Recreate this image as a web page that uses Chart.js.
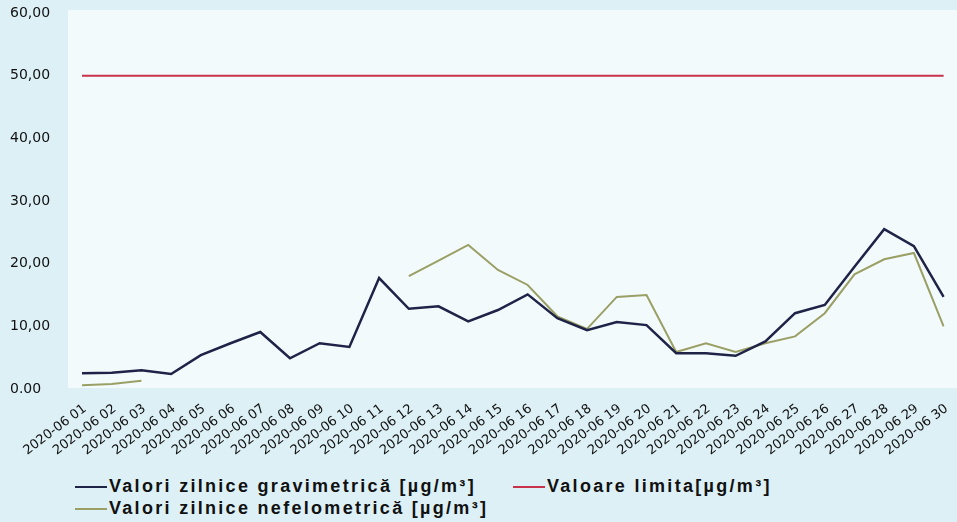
<!DOCTYPE html>
<html lang="ro">
<head>
<meta charset="UTF-8" />
<title>PM10 iunie 2020</title>
<script src="https://cdn.jsdelivr.net/npm/chart.js"></script>
<style>
  body {
    margin: 0;
    padding: 0;
    background: #dcf0f6;
    width: 957px;
    height: 522px;
    overflow: hidden;
    position: relative;
    font-family: 'DejaVu Sans', sans-serif;
  }
  #wrap {
    position: absolute;
    left: 0;
    top: 0;
    width: 957px;
    height: 470px;
  }
  .legend-item {
    position: absolute;
    display: flex;
    align-items: center;
    font-family: 'Liberation Sans', Arial, sans-serif;
    font-size: 18px;
    font-weight: bold;
    letter-spacing: 2.3px;
    color: #111;
    white-space: nowrap;
  }
  .legend-item .mark {
    width: 32px;
    height: 2px;
    margin-right: 2px;
  }
</style>
</head>
<body>

<div id="wrap"><canvas id="chart"></canvas></div>

<div class="legend-item" style="left:75px; top:476px;"><span class="mark" style="background:#1f2347"></span>Valori zilnice gravimetrică [µg/m³]</div>
<div class="legend-item" style="left:513px; top:476px;"><span class="mark" style="background:#c8324b"></span>Valoare limita[µg/m³]</div>
<div class="legend-item" style="left:75px; top:498px;"><span class="mark" style="background:#9aa065"></span>Valori zilnice nefelometrică [µg/m³]</div>

<script>
  // categories: days of June 2020
  const days = ['2020-06 01', '2020-06 02', '2020-06 03', '2020-06 04', '2020-06 05', '2020-06 06',
    '2020-06 07', '2020-06 08', '2020-06 09', '2020-06 10', '2020-06 11', '2020-06 12',
    '2020-06 13', '2020-06 14', '2020-06 15', '2020-06 16', '2020-06 17', '2020-06 18',
    '2020-06 19', '2020-06 20', '2020-06 21', '2020-06 22', '2020-06 23', '2020-06 24',
    '2020-06 25', '2020-06 26', '2020-06 27', '2020-06 28', '2020-06 29', '2020-06 30'];

  // series values (µg/m³)
  const gravimetric = [2.5, 2.6, 3.0, 2.4, 5.4, 7.3, 9.1, 4.9, 7.3, 6.7, 17.7, 12.8, 13.2, 10.8, 12.6,
    15.1, 11.3, 9.4, 10.7, 10.2, 5.7, 5.7, 5.3, 7.6, 12.1, 13.4, 19.5, 25.5, 22.8, 14.7];
  const nefelometric = [0.6, 0.8, 1.3, null, null, null, null, null, null, null, null, 18.0, 20.5, 23.0, 19.0,
    16.6, 11.6, 9.6, 14.7, 15.0, 5.9, 7.3, 5.9, 7.3, 8.4, 12.1, 18.3, 20.7, 21.7, 10.0];
  const limit = days.map(() => 50);

  // y-axis ticks
  const yTicks = [0, 10, 20, 30, 40, 50, 60];

  // light plot background painted behind the lines
  const plotBg = {
    id: 'plotBg',
    beforeDraw(chart) {
      const { ctx, chartArea } = chart;
      ctx.save();
      ctx.fillStyle = '#f3fafc';
      ctx.fillRect(chartArea.left - 14, chartArea.top - 3, chart.width - chartArea.left + 14, chartArea.bottom - chartArea.top + 2);
      ctx.restore();
    }
  };

  new Chart(document.getElementById('chart'), {
    type: 'line',
    data: {
      labels: days,
      datasets: [
        {
          label: 'Valori zilnice gravimetrică [µg/m³]',
          data: gravimetric,
          borderColor: '#1f2347',
          borderWidth: 2.5,
          pointRadius: 0,
          tension: 0
        },
        {
          label: 'Valoare limita[µg/m³]',
          data: limit,
          borderColor: '#c8324b',
          borderWidth: 2,
          pointRadius: 0
        },
        {
          label: 'Valori zilnice nefelometrică [µg/m³]',
          data: nefelometric,
          borderColor: '#9aa065',
          borderWidth: 2,
          pointRadius: 0,
          spanGaps: false
        }
      ]
    },
    options: {
      responsive: true,
      maintainAspectRatio: false,
      animation: false,
      layout: { padding: { left: 10, right: 5, top: 13, bottom: 0 } },
      plugins: {
        legend: { display: false },
        tooltip: { enabled: false }
      },
      scales: {
        x: {
          offset: false,
          grid: { display: false },
          border: { display: false },
          afterFit: s => { s.height = 81; },
          ticks: {
            autoSkip: false,
            minRotation: 37,
            maxRotation: 37,
            padding: 4,
            labelOffset: 3,
            color: '#111',
            font: { family: 'DejaVu Sans', size: 13 }
          }
        },
        y: {
          min: 0,
          max: 60,
          grid: { display: false },
          border: { display: false },
          afterFit: s => { s.width = 72; },
          afterBuildTicks: s => { s.ticks = yTicks.map(v => ({ value: v })); },
          ticks: {
            crossAlign: 'far',
            color: '#111',
            font: { family: 'DejaVu Sans', size: 14 },
            callback: v => v === 0 ? '0.00' : v.toFixed(2).replace('.', ',')
          }
        }
      }
    },
    plugins: [plotBg]
  });
</script>
</body>
</html>
